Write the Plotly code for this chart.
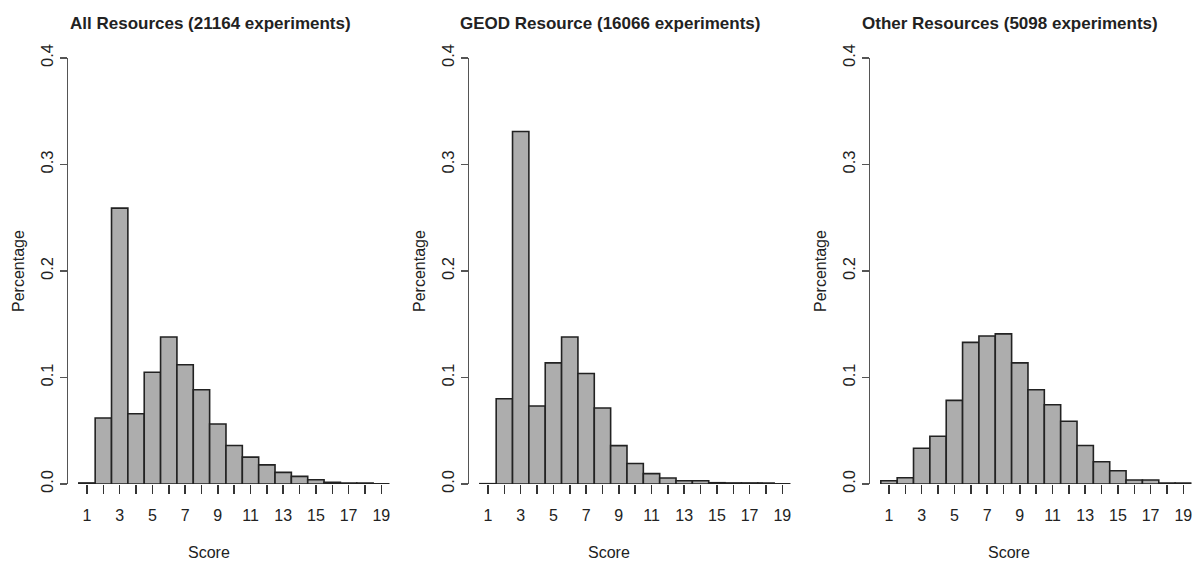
import plotly.graph_objects as go

scores = list(range(1, 20))
tick_labels = [str(s) if s % 2 == 1 else "" for s in scores]
y_ticks = [0.0, 0.1, 0.2, 0.3, 0.4]
y_tick_labels = ["0.0", "0.1", "0.2", "0.3", "0.4"]

titles = ["All Resources (21164 experiments)",
          "GEOD Resource (16066 experiments)",
          "Other Resources (5098 experiments)"]

all_res = [0.001, 0.062, 0.259, 0.066, 0.105, 0.138, 0.112, 0.0885, 0.0564,
           0.0361, 0.0252, 0.018, 0.0109, 0.0072, 0.004, 0.0015, 0.001, 0.001, 0.0002]
geod = [0.0003, 0.080, 0.331, 0.0732, 0.1137, 0.138, 0.1037, 0.0713, 0.036,
        0.0193, 0.0097, 0.0056, 0.003, 0.003, 0.0012, 0.001, 0.001, 0.001, 0.0002]
other = [0.003, 0.0059, 0.0336, 0.0449, 0.0785, 0.133, 0.139, 0.141, 0.1137,
         0.0885, 0.0744, 0.0589, 0.0361, 0.0209, 0.0125, 0.0037, 0.0037, 0.001, 0.001]

series = [all_res, geod, other]

W, H = 1192, 561
FONT = "Liberation Sans, Arial, sans-serif"
axis_px = [68, 469, 870]
unit = 16.35
x_lo = 1 - 19 / unit
x_hi = 19.5
y_top_px, y_bot_px = 58, 484

fig = go.Figure()
layout = dict(
    width=W, height=H,
    margin=dict(l=0, r=0, t=0, b=0, autoexpand=False),
    paper_bgcolor="white", plot_bgcolor="white",
    showlegend=False,
    font=dict(family=FONT, size=16, color="#222"),
    bargap=0,
    annotations=[],
)

for i, vals in enumerate(series):
    sfx = "" if i == 0 else str(i + 1)
    x0 = axis_px[i]
    x1 = x0 + (x_hi - x_lo) * unit
    fig.add_trace(go.Bar(
        x=scores, y=vals, width=1.0,
        marker=dict(color="#ADADAD", line=dict(color="#222222", width=1.6)),
        xaxis="x" + sfx, yaxis="y" + sfx,
    ))
    layout["xaxis" + sfx] = dict(
        domain=[x0 / W, min(x1 / W, 1.0)],
        range=[x_lo, x_hi],
        anchor="y" + sfx,
        automargin=False,
        tickmode="array", tickvals=scores, ticktext=tick_labels,
        ticks="outside", ticklen=9, tickwidth=1.5, tickcolor="#333",
        showline=False, showgrid=False, zeroline=False,
        ticklabelstandoff=8,
        ticklabeloverflow="allow",
        tickfont=dict(size=16, family=FONT, color="#222"),
    )
    layout["yaxis" + sfx] = dict(
        domain=[1 - y_bot_px / H, 1 - y_top_px / H],
        range=[0, 0.4],
        anchor="x" + sfx,
        automargin=False,
        tickmode="array", tickvals=y_ticks, ticktext=y_tick_labels,
        ticks="outside", ticklen=7, tickwidth=1.5, tickcolor="#555",
        showline=True, linecolor="#555", linewidth=1.5,
        showgrid=False, zeroline=False,
        tickangle=-90,
        ticklabeloverflow="allow",
        tickfont=dict(size=16.5, family=FONT, color="#222"),
    )
    # subplot title
    layout["annotations"].append(dict(
        text="<b>" + titles[i] + "</b>", xref="paper", yref="paper",
        x=(210 + 400 * i) / W, y=1 - 23 / H, xanchor="center", yanchor="middle",
        showarrow=False, font=dict(size=17, family=FONT, color="#222"),
    ))
    # x-axis title
    layout["annotations"].append(dict(
        text="Score", xref="paper", yref="paper",
        x=(209 + 400 * i) / W, y=1 - 552 / H, xanchor="center", yanchor="middle",
        showarrow=False, font=dict(size=16, family=FONT, color="#222"),
    ))
    # y-axis title
    layout["annotations"].append(dict(
        text="Percentage", xref="paper", yref="paper",
        x=(18 + 401 * i) / W, y=1 - 271 / H, xanchor="center", yanchor="middle",
        textangle=-90,
        showarrow=False, font=dict(size=16, family=FONT, color="#222"),
    ))

fig.update_layout(**layout)
fig.write_html(
    "out.html",
    config={"displayModeBar": False, "staticPlot": True},
    post_script="document.body.style.margin='0';document.body.style.overflow='hidden';",
)
